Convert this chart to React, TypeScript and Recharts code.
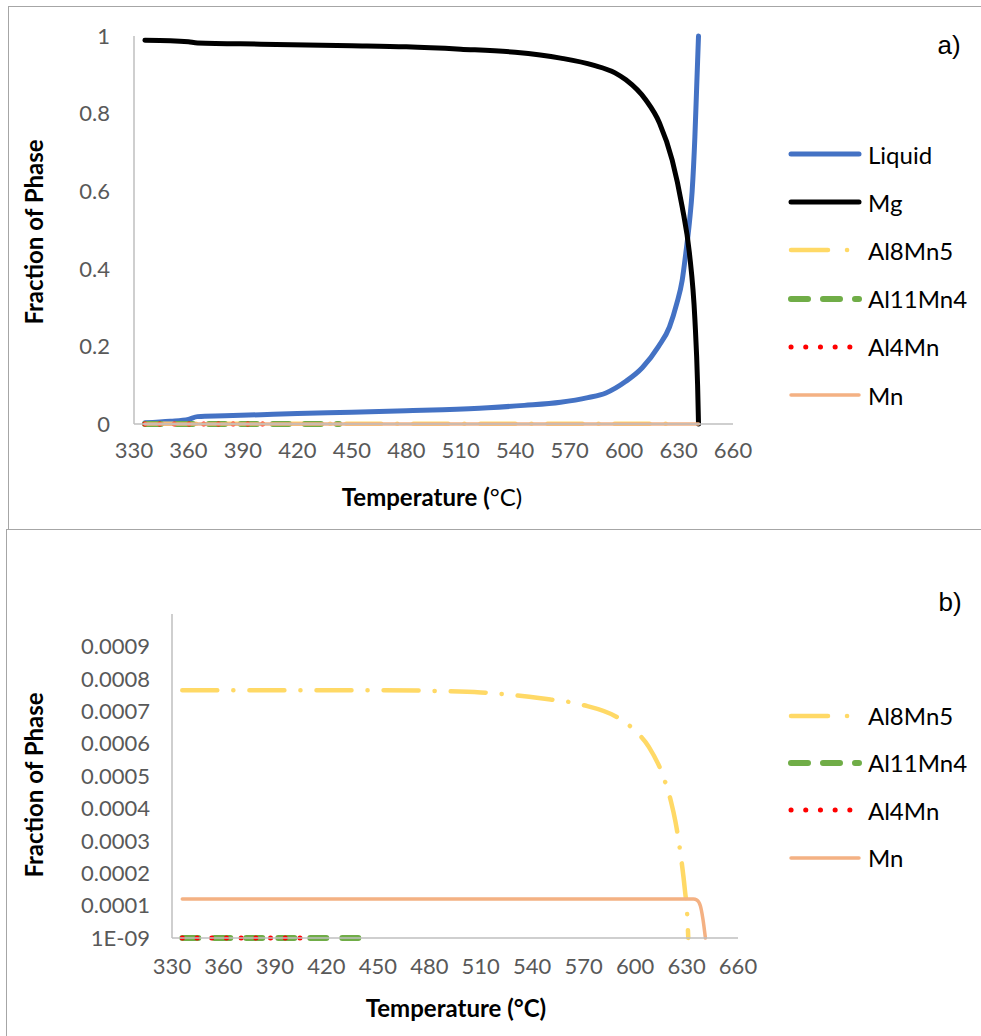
import React from 'react';
import { LineChart, Line, XAxis, YAxis } from 'recharts';

// Axis ticks
const tempTicks = [330, 360, 390, 420, 450, 480, 510, 540, 570, 600, 630, 660];
const fractionTicks = [0, 0.2, 0.4, 0.6, 0.8, 1];
const traceTicks = [1e-9, 0.0001, 0.0002, 0.0003, 0.0004, 0.0005, 0.0006, 0.0007, 0.0008, 0.0009];

// Liquid phase fraction vs temperature (°C)
const liquidT = [336, 350, 360, 365, 380, 400, 420, 450, 480, 500, 525, 545, 565, 580, 590, 601, 610, 619, 625, 629, 632, 634, 636, 637.5, 639, 640, 641];
const liquidF = [0.003, 0.007, 0.012, 0.019, 0.021, 0.024, 0.027, 0.03, 0.034, 0.037, 0.042, 0.048, 0.056, 0.068, 0.08, 0.11, 0.145, 0.2, 0.25, 0.31, 0.37, 0.44, 0.52, 0.6, 0.74, 0.87, 1.0];

// Mg phase fraction
const mgT = [336, 350, 360, 365, 400, 450, 480, 510, 540, 565, 583, 595, 601, 612, 619.5, 626.5, 632, 636, 639, 640.5, 641];
const mgF = [0.989, 0.988, 0.985, 0.982, 0.979, 0.975, 0.972, 0.966, 0.958, 0.943, 0.925, 0.905, 0.887, 0.835, 0.776, 0.68, 0.56, 0.44, 0.27, 0.1, 0];

// Al8Mn5 phase fraction
const al8mn5T = [336, 400, 450, 480, 510, 545, 569, 590, 600, 608, 617, 621, 623.5, 627, 629, 630.5, 631];
const al8mn5F = [0.000765, 0.000765, 0.000765, 0.000763, 0.000758, 0.00074, 0.00072, 0.00068, 0.00064, 0.00059, 0.00049, 0.00042, 0.00036, 0.00024, 0.00015, 0.00006, 0];

// Al11Mn4 phase fraction
const al11mn4T = [336, 443];
const al11mn4F = [1e-9, 1e-9];

// Al4Mn phase fraction
const al4mnT = [336, 407];
const al4mnF = [1e-9, 1e-9];

// Mn phase fraction
const mnT = [336, 400, 500, 600, 634, 636, 638, 639.5, 641];
const mnF = [0.00012, 0.00012, 0.00012, 0.00012, 0.00012, 0.000117, 0.0001, 0.00006, 0];

const pair = (ts: number[], fs: number[]) => ts.map((t, i) => ({ t, f: fs[i] }));

type SeriesStyle = { stroke: string; width: number; dash?: string; legendDash?: string };

const STYLES: Record<string, SeriesStyle> = {
  Liquid: { stroke: '#4472C4', width: 5 },
  Mg: { stroke: '#000000', width: 5 },
  Al8Mn5: { stroke: '#FFD966', width: 4.5, dash: '35 16 0.1 16', legendDash: '37 19 0.1 19' },
  Al11Mn4: { stroke: '#70AD47', width: 6, dash: '16 16', legendDash: '17 15' },
  Al4Mn: { stroke: '#FF0000', width: 5, dash: '0.1 14.6', legendDash: '0.1 14.6' },
  Mn: { stroke: '#F4B183', width: 3.5 },
};

const seriesTop = [
  { name: 'Liquid', data: pair(liquidT, liquidF) },
  { name: 'Mg', data: pair(mgT, mgF) },
  { name: 'Al8Mn5', data: pair(al8mn5T, al8mn5F) },
  { name: 'Al11Mn4', data: pair(al11mn4T, al11mn4F) },
  { name: 'Al4Mn', data: pair(al4mnT, al4mnF) },
  { name: 'Mn', data: pair(mnT, mnF) },
];

const seriesBottom = seriesTop.slice(2);

const FONT = 'Lato, "Open Sans", sans-serif';
const tickStyle = { fill: '#595959', fontSize: 22, fontFamily: FONT };
const axisLine = { stroke: '#bfbfbf', strokeWidth: 1.5 };

function renderLines(list: { name: string; data: { t: number; f: number }[] }[]) {
  return list.map((s) => {
    const st = STYLES[s.name];
    return (
      <Line
        key={s.name}
        name={s.name}
        data={s.data}
        dataKey="f"
        type="monotone"
        stroke={st.stroke}
        strokeWidth={st.width}
        strokeDasharray={st.dash}
        strokeLinecap="round"
        strokeLinejoin="round"
        dot={false}
        activeDot={false}
        isAnimationActive={false}
      />
    );
  });
}

function LegendBlock({ names, left, top, rowH }: { names: string[]; left: number; top: number; rowH: number }) {
  return (
    <div style={{ position: 'absolute', left, top }}>
      {names.map((n) => {
        const st = STYLES[n];
        return (
          <div key={n} style={{ height: rowH, display: 'flex', alignItems: 'center' }}>
            <svg width={80} height={12} style={{ display: 'block' }}>
              <line
                x1={4}
                y1={6}
                x2={72}
                y2={6}
                stroke={st.stroke}
                strokeWidth={st.width}
                strokeDasharray={st.legendDash}
                strokeLinecap="round"
              />
            </svg>
            <span style={{ fontFamily: FONT, fontSize: 24, color: '#000', marginLeft: 1 }}>{n}</span>
          </div>
        );
      })}
    </div>
  );
}

const yTitle = (cx: number, cy: number) => (
  <div
    style={{
      position: 'absolute',
      left: cx,
      top: cy,
      transform: 'translate(-50%, -50%) rotate(-90deg)',
      fontFamily: FONT,
      fontWeight: 700,
      fontSize: 24,
      whiteSpace: 'nowrap',
      color: '#000',
    }}
  >
    Fraction of Phase
  </div>
);

export default function App() {
  return (
    <div style={{ position: 'absolute', left: 0, top: 0, width: 981, height: 1036, overflow: 'hidden', background: '#fff' }}>
      {/* panel frames */}
      <div style={{ position: 'absolute', left: 8, top: 6, width: 1000, height: 522, border: '1px solid #a6a6a6' }} />
      <div style={{ position: 'absolute', left: 6, top: 529, width: 1000, height: 520, border: '1px solid #a6a6a6' }} />

      {/* a) full phase fractions */}
      <div style={{ position: 'absolute', left: 0, top: 0 }}>
        <LineChart width={981} height={528} margin={{ top: 36, right: 248, bottom: 64, left: 34 }}>
          <XAxis
            type="number"
            dataKey="t"
            domain={[330, 660]}
            ticks={tempTicks}
            interval={0}
            allowDuplicatedCategory={false}
            axisLine={axisLine}
            tickLine={false}
            tickSize={4}
            tickMargin={14}
            tick={tickStyle}
            height={40}
          />
          <YAxis
            type="number"
            domain={[0, 1]}
            ticks={fractionTicks}
            interval={0}
            axisLine={axisLine}
            tickLine={false}
            tickSize={4}
            tickMargin={20}
            tick={tickStyle}
            width={100}
            tickFormatter={(v: number) => String(v)}
          />
          {renderLines(seriesTop)}
        </LineChart>
      </div>
      {yTitle(33, 232)}
      <div style={{ position: 'absolute', left: 432, top: 496, transform: 'translate(-50%, -50%)', fontFamily: FONT, fontSize: 24, whiteSpace: 'nowrap' }}>
        <span style={{ fontWeight: 700 }}>Temperature (</span>
        <span>°C)</span>
      </div>
      <LegendBlock names={seriesTop.map((s) => s.name)} left={787} top={130} rowH={48.2} />
      <div style={{ position: 'absolute', left: 949, top: 45, transform: 'translate(-50%, -50%)', fontFamily: '"Liberation Sans", Arial, sans-serif', fontSize: 26 }}>
        a)
      </div>

      {/* b) minor phases */}
      <div style={{ position: 'absolute', left: 0, top: 529 }}>
        <LineChart width={981} height={507} margin={{ top: 85, right: 243, bottom: 58, left: 72 }}>
          <XAxis
            type="number"
            dataKey="t"
            domain={[330, 660]}
            ticks={tempTicks}
            interval={0}
            allowDuplicatedCategory={false}
            axisLine={axisLine}
            tickLine={false}
            tickSize={4}
            tickMargin={16}
            tick={tickStyle}
            height={40}
          />
          <YAxis
            type="number"
            domain={[0, 0.001]}
            ticks={traceTicks}
            interval={0}
            axisLine={axisLine}
            tickLine={false}
            tickSize={4}
            tickMargin={18}
            tick={tickStyle}
            width={100}
            tickFormatter={(v: number) => (v < 1e-6 ? '1E-09' : v.toFixed(4))}
          />
          {renderLines(seriesBottom)}
        </LineChart>
      </div>
      {yTitle(33, 785)}
      <div style={{ position: 'absolute', left: 456, top: 1007, transform: 'translate(-50%, -50%)', fontFamily: FONT, fontSize: 24, fontWeight: 700, whiteSpace: 'nowrap' }}>
        Temperature (°C)
      </div>
      <LegendBlock names={seriesBottom.map((s) => s.name)} left={787} top={692} rowH={47.3} />
      <div style={{ position: 'absolute', left: 950, top: 602, transform: 'translate(-50%, -50%)', fontFamily: '"Liberation Sans", Arial, sans-serif', fontSize: 26 }}>
        b)
      </div>
    </div>
  );
}
